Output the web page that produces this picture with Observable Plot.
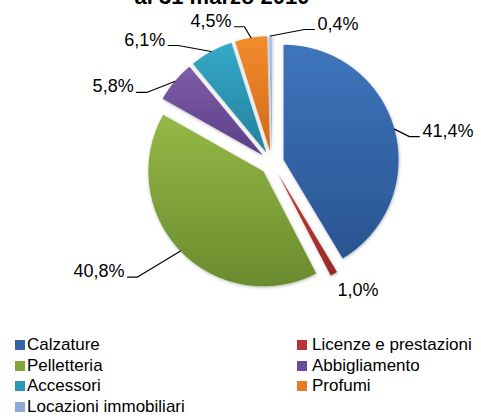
<!DOCTYPE html>
<html><head><meta charset="utf-8">
<script src="https://cdn.jsdelivr.net/npm/d3@7"></script>
<script src="https://cdn.jsdelivr.net/npm/@observablehq/plot@0.6"></script>
<style>
body{margin:0;background:#fff;width:481px;height:416px;overflow:hidden;position:relative;font-family:"Liberation Sans",Arial,sans-serif;color:#000;}
#title{position:absolute;left:0;top:-13.6px;width:444px;text-align:center;font-weight:bold;font-size:22px;line-height:22px;}
#chart{position:absolute;left:0;top:0;}
#legend{position:absolute;left:0;top:335px;width:481px;font-size:17px;}
.row{position:relative;height:20.5px;line-height:20.5px;}
.item{position:absolute;top:0;white-space:nowrap;}
.sw{position:absolute;top:5px;width:10px;height:10px;}
</style></head><body>
<div id="chart"></div>
<div id="title">al 31 marzo 2010</div>
<div id="legend"></div>
<script>
// ---- data ----
const categories = ["Calzature","Licenze e prestazioni","Pelletteria","Abbigliamento","Accessori","Profumi","Locazioni immobiliari"];
const shares = [41.4, 1.0, 40.8, 5.8, 6.1, 4.5, 0.4];
const labels = ["41,4%","1,0%","40,8%","5,8%","6,1%","4,5%","0,4%"];
// ---- styles / layout ----
const colorsTop    = ["#3d75bc","#c33b37","#94b946","#7f5da8","#36a9c9","#f38c2d","#a9c6ea"];
const colorsBottom = ["#2a5491","#982a27","#6a8b2e","#5a3f87","#23809c","#d2691a","#7c9fcf"];
const swatchColors = ["#3466a6","#b83333","#80a53b","#6b4b95","#2c97b6","#e67b23","#8eabd7"];
// label offset from slice edge (px, screen dx/dy) and whether a leader line is drawn
const labelNudge = [[25,7.5,1],[3.5,21.6,0],[-53,26,1],[-38,11,1],[-43,-6,1],[-16.5,-11,1],[44,-6.5,1]];
const legendOrder = [[0,1],[2,3],[4,5],[6,null]];

const W = 481, H = 330, cx = 271.5, cy = 162.5, R = 115, explode = 12;
const arcs = d3.pie().sort(null).value(d => d)(shares);

const slicePts = [], leaderPts = [], textRows = [];
arcs.forEach((a, i) => {
  const cat = categories[i];
  const mid = (a.startAngle + a.endAngle) / 2;
  const ox = explode * Math.sin(mid), oy = explode * Math.cos(mid);
  slicePts.push({cat, x: ox, y: oy});
  const n = Math.max(2, Math.ceil((a.endAngle - a.startAngle) / (Math.PI / 360)));
  for (let k = 0; k <= n; k++) {
    const t = a.startAngle + (a.endAngle - a.startAngle) * k / n;
    slicePts.push({cat, x: ox + R * Math.sin(t), y: oy + R * Math.cos(t)});
  }
  const ex = (R + explode) * Math.sin(mid), ey = (R + explode) * Math.cos(mid);
  const [dx, dy, lead] = labelNudge[i];
  const lx = ex + dx, ly = ey - dy;
  const side = dx >= 0 ? 1 : -1;
  if (lead) {
    leaderPts.push({cat, x: ex, y: ey});
    leaderPts.push({cat, x: lx - side * 10, y: ly});
    leaderPts.push({cat, x: lx, y: ly});
  }
  textRows.push({cat, label: labels[i], x: lead ? lx + side * 3 : lx, y: ly, side});
});

const plot = Plot.plot({
  width: W, height: H, margin: 0,
  style: {fontFamily: "'Liberation Sans', Arial, sans-serif", background: "white"},
  x: {domain: [-cx, W - cx], range: [0, W], axis: null},
  y: {domain: [-(H - cy), cy], range: [H, 0], axis: null},
  color: {type: "ordinal", domain: categories, range: categories.map((d, i) => `url(#grad${i})`)},
  marks: [
    Plot.line(slicePts, {x: "x", y: "y", z: "cat", fill: "cat", stroke: "none"}),
    Plot.line(leaderPts, {x: "x", y: "y", z: "cat", stroke: "#000", strokeWidth: 1.2}),
    Plot.text(textRows.filter(d => d.side > 0), {x: "x", y: "y", text: "label", textAnchor: "start", lineAnchor: "bottom", fontSize: 18, fill: "#000"}),
    Plot.text(textRows.filter(d => d.side < 0), {x: "x", y: "y", text: "label", textAnchor: "end", lineAnchor: "bottom", fontSize: 18, fill: "#000"})
  ]
});

const svg = d3.select(plot);
const defs = svg.insert("defs", ":first-child");
categories.forEach((c, i) => {
  const g = defs.append("linearGradient").attr("id", `grad${i}`).attr("x1", 0).attr("y1", 0).attr("x2", 0).attr("y2", 1);
  g.append("stop").attr("offset", "0%").attr("stop-color", colorsTop[i]);
  g.append("stop").attr("offset", "100%").attr("stop-color", colorsBottom[i]);
});
const f = defs.append("filter").attr("id", "shadow").attr("x", "-20%").attr("y", "-20%").attr("width", "140%").attr("height", "140%");
f.append("feDropShadow").attr("dx", 0.5).attr("dy", 1).attr("stdDeviation", 1.5).attr("flood-color", "#000").attr("flood-opacity", 0.3);
svg.select("g[aria-label=line]").attr("filter", "url(#shadow)");
document.getElementById("chart").appendChild(plot);

const legend = d3.select("#legend");
legendOrder.forEach(pair => {
  const row = legend.append("div").attr("class", "row");
  pair.forEach((idx, col) => {
    if (idx == null) return;
    row.append("div").attr("class", "sw").style("left", col ? "297px" : "15px").style("background", swatchColors[idx]);
    row.append("div").attr("class", "item").style("left", col ? "312px" : "27px").text(categories[idx]);
  });
});
</script>
</body></html>
